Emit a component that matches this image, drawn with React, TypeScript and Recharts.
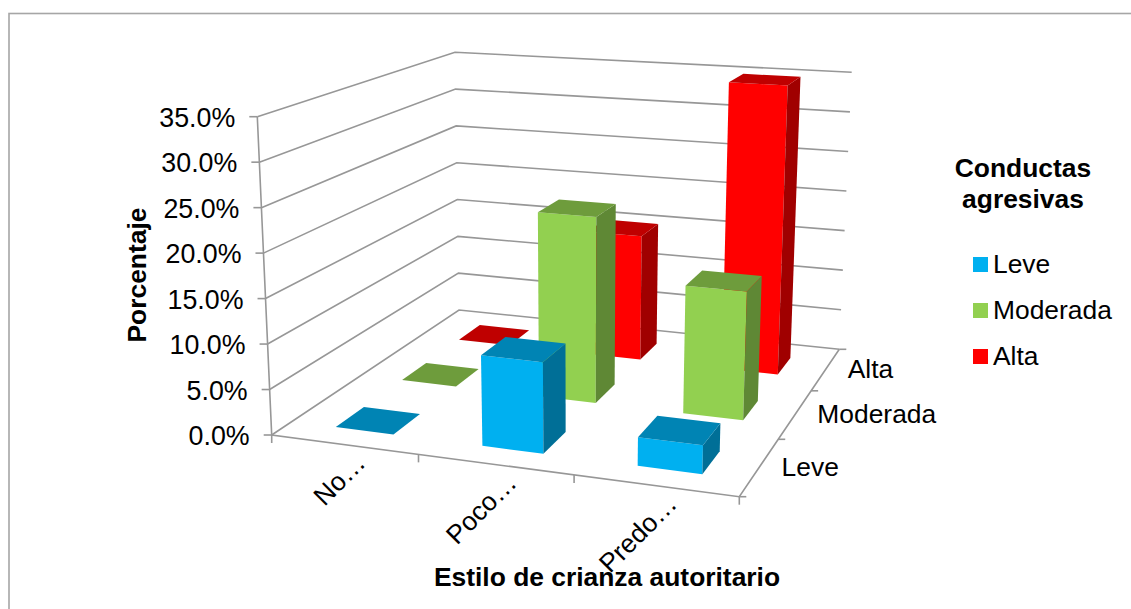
import { Bar, BarChart, Legend, XAxis, YAxis } from 'recharts'

const WIDTH = 1131
const HEIGHT = 609
// the axes keep 1px each, the rest of the chart is the plot
const PLOT_W = WIDTH - 1
const PLOT_H = HEIGHT - 1

const categories = ['No…', 'Poco…', 'Predo…']
const seriesNames = ['Leve', 'Moderada', 'Alta']
const leve = [0, 9.8, 3]
const moderada = [0, 21.5, 14.5]
const alta = [0, 15.3, 35]
const valueTicks = [0, 5, 10, 15, 20, 25, 30, 35]

const chartData = categories.map((name, i) => ({
  name,
  Leve: leve[i],
  Moderada: moderada[i],
  Alta: alta[i]
}))

const colors: Record<string, { front: string; top: string; side: string }> = {
  Leve: { front: '#00B0F0', top: '#0084B4', side: '#006F97' },
  Moderada: { front: '#92D050', top: '#6E9C3C', side: '#5F8835' },
  Alta: { front: '#FF0000', top: '#BF0000', side: '#A00000' }
}

type Pt = [number, number]

// unit square -> quad, used for the floor and for the top of the box
function homography(p0: Pt, p1: Pt, p2: Pt, p3: Pt) {
  const sx = p0[0] - p1[0] + p2[0] - p3[0]
  const sy = p0[1] - p1[1] + p2[1] - p3[1]
  const dx1 = p1[0] - p2[0]
  const dx2 = p3[0] - p2[0]
  const dy1 = p1[1] - p2[1]
  const dy2 = p3[1] - p2[1]
  const den = dx1 * dy2 - dx2 * dy1
  const g = (sx * dy2 - dx2 * sy) / den
  const h = (dx1 * sy - sx * dy1) / den
  const a = p1[0] - p0[0] + g * p1[0]
  const b = p3[0] - p0[0] + h * p3[0]
  const d = p1[1] - p0[1] + g * p1[1]
  const e = p3[1] - p0[1] + h * p3[1]
  return (u: number, v: number): Pt => {
    const w = g * u + h * v + 1
    return [(a * u + b * v + p0[0]) / w, (d * u + e * v + p0[1]) / w]
  }
}

const floor = homography([271.7, 435], [739.3, 496.7], [839.3, 349.3], [459, 310])
const ceiling = homography([257.3, 116.7], [749.6, 149.7], [851.7, 72.3], [455, 52.3])

function project(u: number, depth: number, level: number): Pt {
  const a = floor(u, depth)
  const b = ceiling(u, depth)
  return [a[0] + (b[0] - a[0]) * level, a[1] + (b[1] - a[1]) * level]
}

const poly = (pts: Pt[]) => pts.map(p => p.join(',')).join(' ')
const toU = (x: number) => (x - 1) / PLOT_W
const toLevel = (y: number) => (PLOT_H - y) / PLOT_H

const BAR_SIZE = (PLOT_W / 3) * 0.4
const BAR_SHIFT = 0.003
const BAR_DEPTH = 0.135

function Box3D({ x, y, width, height, seriesIndex, name }: any) {
  const u0 = toU(x) + BAR_SHIFT
  const u1 = toU(x + width) + BAR_SHIFT
  const level = toLevel(y)
  const base = toLevel(y + height)
  const d0 = (seriesIndex + 0.5) / 3 - BAR_DEPTH / 2 - 0.01
  const d1 = d0 + BAR_DEPTH
  const c = colors[name]
  return (
    <g>
      <polygon
        points={poly([project(u0, d0, base), project(u1, d0, base), project(u1, d0, level), project(u0, d0, level)])}
        fill={c.front}
      />
      <polygon
        points={poly([project(u1, d0, base), project(u1, d1, base), project(u1, d1, level), project(u1, d0, level)])}
        fill={c.side}
      />
      <polygon
        points={poly([project(u0, d0, level), project(u1, d0, level), project(u1, d1, level), project(u0, d1, level)])}
        fill={c.top}
      />
    </g>
  )
}

const LINE = { stroke: '#979797', strokeWidth: 1.6, fill: 'none' }
const FONT = 'Liberation Sans, Arial, sans-serif'
const FONT_SIZE = 26.4

function Walls() {
  return (
    <g>
      {valueTicks.map(v => {
        const level = v / 35
        return (
          <polyline
            key={v}
            {...LINE}
            points={poly([project(0, 0, level), project(0, 1, level), project(1, 1, level)])}
          />
        )
      })}
      <polyline {...LINE} points={poly([project(0, 0, 1), project(0, 0, 0), project(1, 0, 0), project(1, 1, 0)])} />
      {valueTicks.map(v => {
        const p = project(0, 0, v / 35)
        return <line key={v} {...LINE} x1={p[0] - 8} y1={p[1]} x2={p[0]} y2={p[1]} />
      })}
      {[0, 1, 2, 3].map(i => {
        const p = project(i / 3, 0, 0)
        return <line key={i} {...LINE} x1={p[0]} y1={p[1]} x2={p[0]} y2={p[1] + 8} />
      })}
      {[0, 1, 2, 3].map(i => {
        const p = project(1, i / 3, 0)
        return <line key={i} {...LINE} x1={p[0]} y1={p[1]} x2={p[0] + 7} y2={p[1]} />
      })}
    </g>
  )
}

function DepthLabels() {
  return (
    <g>
      {seriesNames.map((name, i) => {
        const p = project(1, (i + 0.5) / 3, 0)
        return (
          <text key={name} x={p[0] + 22} y={p[1] + 9} fontSize={FONT_SIZE} fontFamily={FONT} fill="#000">
            {name}
          </text>
        )
      })}
    </g>
  )
}

function ValueTick({ y, payload }: any) {
  const p = project(0, 0, toLevel(y))
  return (
    <text x={p[0] - 22} y={p[1] + 10} textAnchor="end" fontSize={26.8} fontFamily={FONT} fill="#000">
      {payload.value.toFixed(1)}%
    </text>
  )
}

function CategoryTick({ payload }: any) {
  const p = project(toU(payload.coordinate), 0, 0)
  const tx = p[0] + 23
  const ty = p[1] + 20
  return (
    <text
      x={tx}
      y={ty}
      textAnchor="end"
      fontSize={FONT_SIZE}
      fontFamily={FONT}
      fill="#000"
      transform={`rotate(-45 ${tx} ${ty})`}
    >
      {payload.value}
    </text>
  )
}

function SeriesLegend() {
  return (
    <div style={{ fontFamily: FONT, fontSize: FONT_SIZE, color: '#000', lineHeight: '46px' }}>
      {seriesNames.map(name => (
        <div key={name} style={{ display: 'flex', alignItems: 'center', whiteSpace: 'nowrap' }}>
          <span style={{ width: 15, height: 15, background: colors[name].front, marginRight: 5 }} />
          {name}
        </div>
      ))}
    </div>
  )
}

export default function App() {
  return (
    <div style={{ position: 'absolute', left: 0, top: 0, width: WIDTH, height: HEIGHT, overflow: 'hidden' }}>
      <BarChart
        width={WIDTH}
        height={HEIGHT}
        data={chartData}
        margin={{ top: 0, right: 0, bottom: 0, left: 0 }}
        barSize={BAR_SIZE}
        barGap={-BAR_SIZE}
      >
        <rect x={9} y={13.5} width={1300} height={800} fill="#fff" stroke="#a6a6a6" strokeWidth={1.6} />
        <Walls />
        <XAxis dataKey="name" height={1} interval={0} axisLine={false} tickLine={false} tick={<CategoryTick />} />
        <YAxis
          domain={[0, 35]}
          ticks={valueTicks}
          width={1}
          interval={0}
          axisLine={false}
          tickLine={false}
          tick={<ValueTick />}
        />
        <Bar
          dataKey="Alta"
          isAnimationActive={false}
          shape={(p: any) => <Box3D {...p} seriesIndex={2} name="Alta" />}
        />
        <Bar
          dataKey="Moderada"
          isAnimationActive={false}
          shape={(p: any) => <Box3D {...p} seriesIndex={1} name="Moderada" />}
        />
        <Bar
          dataKey="Leve"
          isAnimationActive={false}
          shape={(p: any) => <Box3D {...p} seriesIndex={0} name="Leve" />}
        />
        <DepthLabels />
        <text
          x={137}
          y={275}
          textAnchor="middle"
          dominantBaseline="central"
          fontSize={FONT_SIZE}
          fontWeight="bold"
          fontFamily={FONT}
          transform="rotate(-90 137 275)"
        >
          Porcentaje
        </text>
        <text x={607} y={586} textAnchor="middle" fontSize={FONT_SIZE} fontWeight="bold" fontFamily={FONT}>
          Estilo de crianza autoritario
        </text>
        <text textAnchor="middle" fontSize={FONT_SIZE} fontWeight="bold" fontFamily={FONT}>
          <tspan x={1023} y={177}>Conductas</tspan>
          <tspan x={1023} y={208}>agresivas</tspan>
        </text>
        <Legend
          layout="vertical"
          align="center"
          verticalAlign="middle"
          content={<SeriesLegend />}
          wrapperStyle={{ left: 973, top: 241, width: 150, bottom: 'auto', right: 'auto' }}
        />
      </BarChart>
    </div>
  )
}
